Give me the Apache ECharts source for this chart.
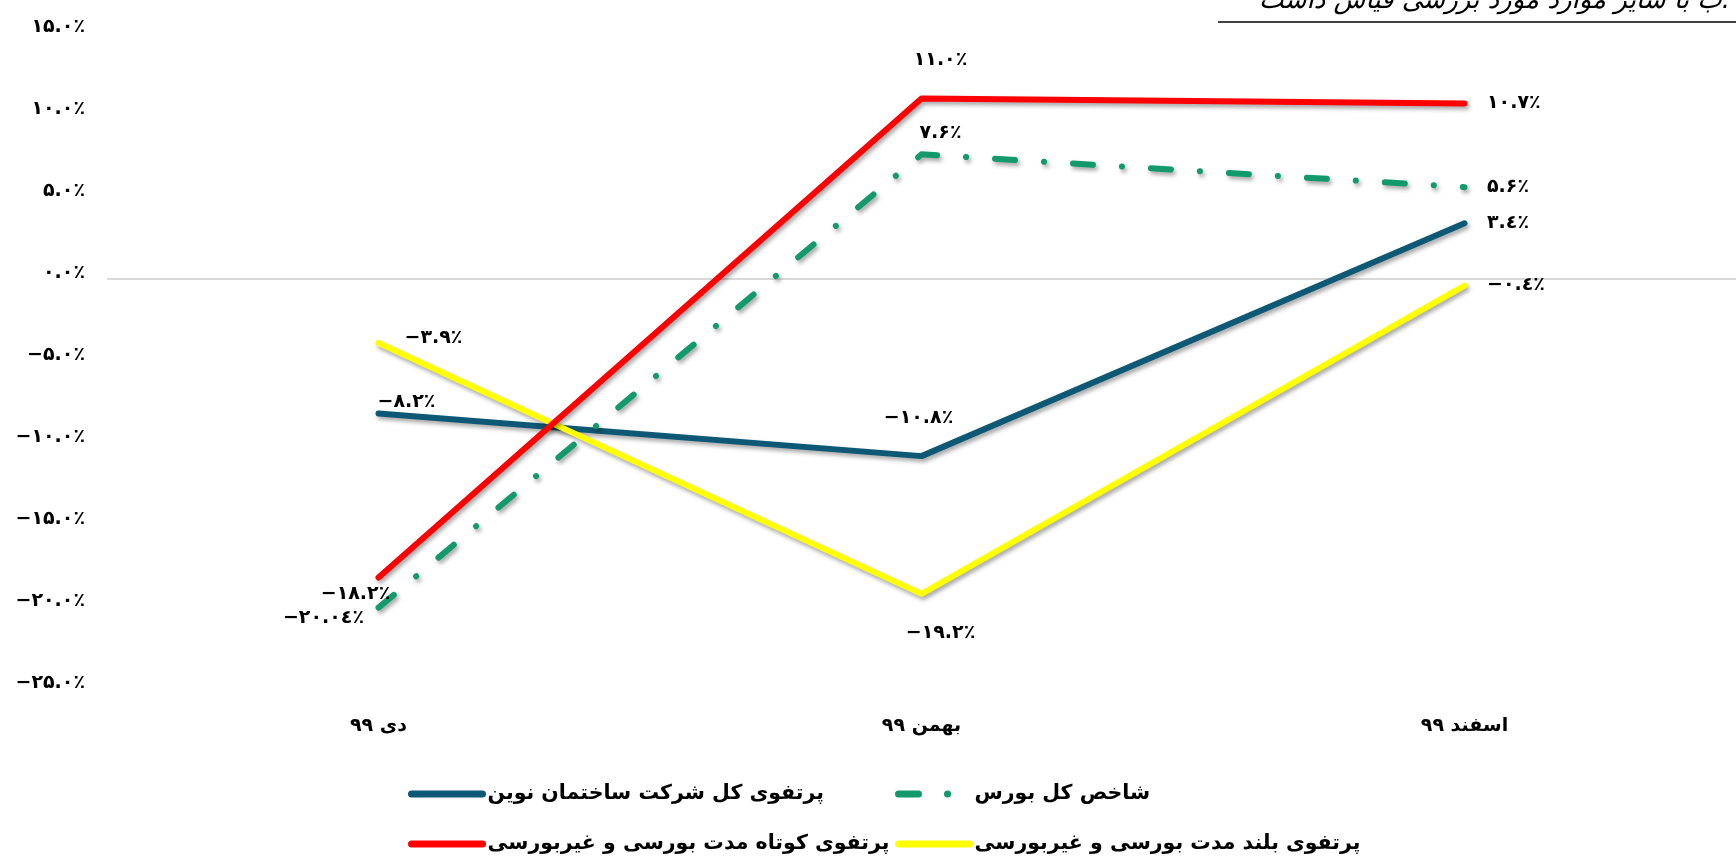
<!DOCTYPE html>
<html>
<head>
<meta charset="utf-8">
<title>بازده پرتفوی</title>
<script src="https://cdn.jsdelivr.net/npm/echarts@6/dist/echarts.min.js"></script>
<style>
  html, body { margin: 0; padding: 0; background: #fff; }
  #chart { width: 1736px; height: 858px; }
</style>
</head>
<body>
<div id="chart"></div>
<script>
// data (percent)
const months = ['دی ۹۹', 'بهمن ۹۹', 'اسفند ۹۹']
const novinTotal = [-8.2, -10.8, 3.4]     // پرتفوی کل شرکت ساختمان نوین
const bourseIndex = [-20.04, 7.6, 5.6]   // شاخص کل بورس
const shortTerm = [-18.2, 11.0, 10.7]    // پرتفوی کوتاه مدت
const longTerm = [-3.9, -19.2, -0.4]     // پرتفوی بلند مدت
const yTicks = [-25, -20, -15, -10, -5, 0, 5, 10, 15]

const NAMES = {
  novin: 'پرتفوی کل شرکت ساختمان نوین',
  bourse: 'شاخص کل بورس',
  short: 'پرتفوی کوتاه مدت بورسی و غیربورسی',
  long: 'پرتفوی بلند مدت بورسی و غیربورسی'
}

const FONT = 'DejaVu Sans'
const faDigits = ['۰', '۱', '۲', '۳', '٤', '۵', '۶', '۷', '۸', '۹']

function fa(v) {
  let s = Number.isInteger(v) ? v.toFixed(1) : String(v)
  s = s.replace('-', '−').replace(/\d/g, d => faDigits[d])
  return s + '٪'
}

const labelBase = {
  show: true,
  color: '#000',
  fontFamily: FONT,
  fontWeight: 'bold',
  fontSize: 19,
  formatter: p => fa(p.value)
}

// label placement for each point: [dx, dy] from the point, or 'right'
function withLabels(values, offsets) {
  return values.map((v, i) => {
    const o = offsets[i]
    const label = o === 'right'
      ? { position: 'right', distance: 22 }
      : { position: 'inside', offset: o }
    return { value: v, label: label }
  })
}

const shadow = {
  shadowColor: 'rgba(0,0,0,0.35)',
  shadowBlur: 4,
  shadowOffsetX: 2,
  shadowOffsetY: 3
}

function lineSeries(name, color, values, offsets, extra) {
  return {
    name: name,
    type: 'line',
    data: withLabels(values, offsets),
    symbol: 'circle',
    symbolSize: 1,
    itemStyle: { color: color },
    lineStyle: Object.assign({ color: color, width: 6, cap: 'round', join: 'round' }, shadow, extra || {}),
    label: labelBase,
    emphasis: { disabled: true },
    animation: false
  }
}

// one legend per item so the two columns line up like the original
function legendAt(name, left, top) {
  return {
    data: [name],
    left: left,
    top: top,
    padding: 0,
    itemWidth: 71,
    itemHeight: 24,
    selectedMode: false,
    itemStyle: { opacity: 0 },
    lineStyle: { width: 7, cap: 'round', shadowBlur: 0, shadowOffsetX: 0, shadowOffsetY: 0 },
    textStyle: { color: '#000', fontFamily: FONT, fontWeight: 'bold', fontSize: 20.5, lineHeight: 24 }
  }
}

const chart = echarts.init(document.getElementById('chart'))

chart.setOption({
  backgroundColor: '#fff',
  grid: { left: 107, top: 33, width: 1649, height: 656 },
  graphic: [
    {
      type: 'text',
      right: 6,
      top: -12,
      style: {
        text: 'ب با سایر موارد مورد بررسی قیاس داشت.',
        font: 'italic 26px "DejaVu Sans"',
        fill: '#000'
      }
    },
    {
      type: 'line',
      shape: { x1: 1218, y1: 22, x2: 1736, y2: 22 },
      style: { stroke: '#000', lineWidth: 1.5 }
    }
  ],
  legend: [
    legendAt(NAMES.novin, 408, 782),
    legendAt(NAMES.bourse, 895, 782),
    legendAt(NAMES.short, 408, 832),
    legendAt(NAMES.long, 895, 832)
  ],
  xAxis: {
    type: 'category',
    data: months,
    boundaryGap: true,
    axisLine: { show: false },
    axisTick: { show: false },
    axisLabel: { color: '#000', fontFamily: FONT, fontWeight: 'bold', fontSize: 19, margin: 28 }
  },
  yAxis: {
    type: 'value',
    min: yTicks[0],
    max: yTicks[yTicks.length - 1],
    interval: 5,
    axisLine: { show: false },
    axisTick: { show: false },
    axisLabel: {
      color: '#000', fontFamily: FONT, fontWeight: 'bold', fontSize: 19,
      margin: 22, verticalAlign: 'bottom', lineHeight: 12,
      formatter: v => fa(v)
    },
    splitLine: {
      show: true,
      lineStyle: { width: 2, color: yTicks.map(t => t === 0 ? '#d9d9d9' : 'rgba(0,0,0,0)') }
    }
  },
  series: [
    lineSeries(NAMES.novin, '#0d5874', novinTotal, [[28, -11], [-3, -38], 'right']),
    lineSeries(NAMES.bourse, '#12996c', bourseIndex, [[-55, 10], [19, -21], 'right'], { type: [20, 29, 0.1, 29] }),
    lineSeries(NAMES.long, '#ffff00', longTerm, [[55, -5], [19, 39], 'right']),
    lineSeries(NAMES.short, '#ff0000', shortTerm, [[-23, 17], [19, -39], 'right'])
  ]
})
</script>
</body>
</html>
